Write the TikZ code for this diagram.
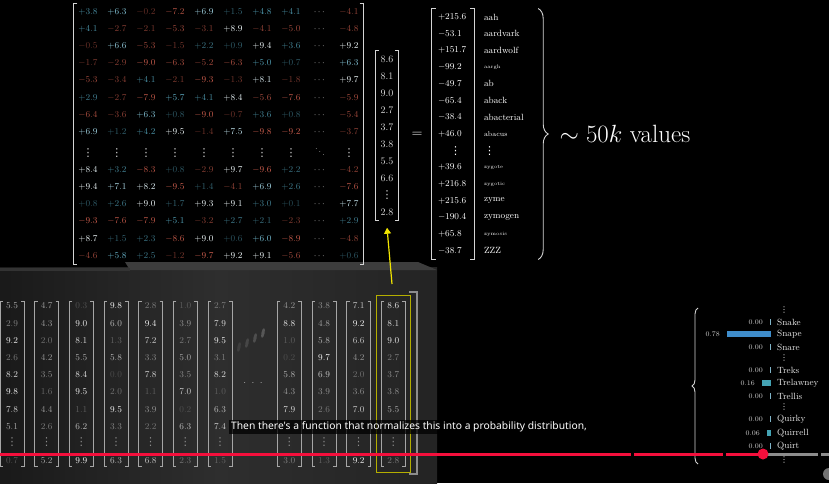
\documentclass[tikz,border=0pt]{standalone}
\usepackage{amsmath}
\usepackage{amssymb}
\usepackage{fontspec}
\newfontfamily\subfont{Noto Sans}
\newfontfamily\dotfont{DejaVu Sans}
\usetikzlibrary{matrix,decorations.pathreplacing,arrows.meta}

\definecolor{nblue}{HTML}{5AAFC8}
\definecolor{nred}{HTML}{D2604F}
\definecolor{dotgray}{HTML}{D8D8D8}
\definecolor{brkgray}{HTML}{D4D4D4}
\definecolor{vgray}{HTML}{DADADA}
\definecolor{ylw}{HTML}{F2E600}
\definecolor{ybox}{HTML}{B4AE00}
\definecolor{progred}{HTML}{F50F3C}
\definecolor{snapeb}{HTML}{3F8DCB}
\definecolor{tealb}{HTML}{44A3B4}
\definecolor{tickc}{HTML}{7FB4C8}

% one matrix entry, coloured by its value
\newcommand\mval[1]{%
  \pgfmathtruncatemacro\mvneg{(#1<0)}%
  \ifnum\mvneg=1
    \pgfmathtruncatemacro\mvl{50+5*abs(#1)}%
    \color{nred!\mvl!black}%
  \else
    \pgfmathtruncatemacro\mvl{min(100,45+9*(#1))}%
    \pgfmathtruncatemacro\mvw{max(0,min(90,((#1)-5.5)*30))}%
    \color{white!\mvw!nblue!\mvl!black}%
  \fi
  \pgfmathprintnumber[fixed,fixed zerofill,precision=1,showpos]{#1}}
% vertical dots as one glyph
\newcommand\vdt[1][11]{{\dotfont\fontsize{#1}{#1}\selectfont ⋮}}
\newcommand\mcd{{\color{dotgray}$\cdots$}}
\newcommand\mvd{{\color{dotgray}\vdt}}
\newcommand\mdd{{\color{dotgray}$\ddots$}}

\begin{document}
\begin{tikzpicture}[x=1pt,y=-1pt,
  brk/.style={draw=brkgray,line width=0.9pt},
  cbrk/.style={draw=black!35,line width=0.8pt},
  brc/.style={draw=brkgray,line width=0.9pt,decorate},
  yarrow/.style={draw=ylw,line width=1.2pt,-{Triangle[width=7pt,length=6pt]}},
  emb/.style={inner sep=0pt,font=\small},
  pnum/.style={inner sep=0pt,font=\scriptsize,text=black!20},
  pword/.style={inner sep=0pt,font=\small,text=black!8}]
\useasboundingbox (0,0) rectangle (829,483);
\fill[black] (0,0) rectangle (829,483);

% panel with the embedding columns
\shade[left color=black!90,right color=black!86,middle color=black!82] (0,267) rectangle (437,483);
\fill[black!76] (125,262) -- (418,262) -- (437,270) -- (130,270) -- cycle;
\fill[black!80] (0,268) -- (130,268) -- (130,271) -- (0,271) -- cycle;

% weight matrix
\matrix (W) [matrix of nodes,inner sep=0pt,
  nodes={minimum width=29pt,minimum height=16.7pt,inner sep=0pt,font=\small}]
  at (218.5,134) {
\mval{3.8} & \mval{6.3} & \mval{-0.2} & \mval{-7.2} & \mval{6.9} & \mval{1.5} & \mval{4.8} & \mval{4.1} & \mcd & \mval{-4.1} \\
\mval{4.1} & \mval{-2.7} & \mval{-2.1} & \mval{-5.3} & \mval{-3.1} & \mval{8.9} & \mval{-4.1} & \mval{-5.0} & \mcd & \mval{-4.8} \\
\mval{-0.5} & \mval{6.6} & \mval{-5.3} & \mval{-1.5} & \mval{2.2} & \mval{0.9} & \mval{9.4} & \mval{3.6} & \mcd & \mval{9.2} \\
\mval{-1.7} & \mval{-2.9} & \mval{-9.0} & \mval{-6.3} & \mval{-5.2} & \mval{-6.3} & \mval{5.0} & \mval{0.7} & \mcd & \mval{6.3} \\
\mval{-5.3} & \mval{-3.4} & \mval{4.1} & \mval{-2.1} & \mval{-9.3} & \mval{-1.3} & \mval{8.1} & \mval{-1.8} & \mcd & \mval{9.7} \\
\mval{2.9} & \mval{-2.7} & \mval{-7.9} & \mval{5.7} & \mval{4.1} & \mval{8.4} & \mval{-5.6} & \mval{-7.6} & \mcd & \mval{-5.9} \\
\mval{-6.4} & \mval{-3.6} & \mval{6.3} & \mval{0.8} & \mval{-9.0} & \mval{-0.7} & \mval{3.6} & \mval{0.8} & \mcd & \mval{-5.4} \\
\mval{6.9} & \mval{1.2} & \mval{4.2} & \mval{9.5} & \mval{-1.4} & \mval{7.5} & \mval{-9.8} & \mval{-9.2} & \mcd & \mval{-3.7} \\
\mvd & \mvd & \mvd & \mvd & \mvd & \mvd & \mvd & \mvd & \mdd & \mvd \\
\mval{8.4} & \mval{3.2} & \mval{-8.3} & \mval{0.8} & \mval{-2.9} & \mval{9.7} & \mval{-9.6} & \mval{2.2} & \mcd & \mval{-4.2} \\
\mval{9.4} & \mval{7.1} & \mval{8.2} & \mval{-9.5} & \mval{1.4} & \mval{-4.1} & \mval{6.9} & \mval{2.6} & \mcd & \mval{-7.6} \\
\mval{0.8} & \mval{2.6} & \mval{9.0} & \mval{1.7} & \mval{9.3} & \mval{9.1} & \mval{3.0} & \mval{0.1} & \mcd & \mval{7.7} \\
\mval{-9.3} & \mval{-7.6} & \mval{-7.9} & \mval{5.1} & \mval{-3.2} & \mval{2.7} & \mval{2.1} & \mval{-2.3} & \mcd & \mval{2.9} \\
\mval{8.7} & \mval{1.5} & \mval{2.3} & \mval{-8.6} & \mval{9.0} & \mval{0.6} & \mval{6.0} & \mval{-8.9} & \mcd & \mval{-4.8} \\
\mval{-4.6} & \mval{5.8} & \mval{2.5} & \mval{-1.2} & \mval{-9.7} & \mval{9.2} & \mval{9.1} & \mval{-5.6} & \mcd & \mval{0.6} \\
};
\draw[brk] ([xshift=4pt]W.north west) -- (W.north west) -- (W.south west) -- ([xshift=4pt]W.south west);
\draw[brk] ([xshift=-4pt]W.north east) -- (W.north east) -- (W.south east) -- ([xshift=-4pt]W.south east);

% the last embedding
\matrix (V) [matrix of nodes,inner sep=0pt,
  nodes={minimum width=22pt,minimum height=17pt,inner sep=0pt,text=vgray}]
  at (387,135.5) {
$8.6$ \\ $8.1$ \\ $9.0$ \\ $2.7$ \\ $3.7$ \\ $3.8$ \\ $5.5$ \\ $6.6$ \\ \vdt \\ $2.8$ \\
};
\draw[brk] ([xshift=3pt]V.north west) -- (V.north west) -- (V.south west) -- ([xshift=3pt]V.south west);
\draw[brk] ([xshift=-3pt]V.north east) -- (V.north east) -- (V.south east) -- ([xshift=-3pt]V.south east);

\node[font=\Large,text=white] (eq) at (417,135) {$=$};

% logits and words
\matrix (R) [matrix of nodes,inner sep=0pt,
  nodes={text width=30pt,inner xsep=6pt,inner ysep=0pt,minimum height=16.7pt,align=left,font=\small,text=white}]
  at (453,134) {
$+215.6$ \\ $-53.1$ \\ $+151.7$ \\ $-99.2$ \\ $-49.7$ \\ $-65.4$ \\ $-38.4$ \\ $+46.0$ \\
\hspace*{12pt}\vdt \\
$+39.6$ \\ $+216.8$ \\ $+215.6$ \\ $-190.4$ \\ $+65.8$ \\ $-38.7$ \\
};
\draw[brk] ([xshift=4pt]R.north west) -- (R.north west) -- (R.south west) -- ([xshift=4pt]R.south west);
\draw[brk] ([xshift=-4pt]R.north east) -- (R.north east) -- (R.south east) -- ([xshift=-4pt]R.south east);

\matrix (WD) [matrix of nodes,inner sep=0pt,
  nodes={text width=50pt,inner sep=0pt,minimum height=16.7pt,align=left,font=\small,text=white}]
  at (509,134) {
aah \\ aardvark \\ aardwolf \\ {\tiny aargh} \\ ab \\ aback \\ abacterial \\ {\scriptsize abacus} \\
\vdt \\
{\tiny zygote} \\ {\tiny zygotic} \\ zyme \\ zymogen \\ {\tiny zymosis} \\ ZZZ \\
};
\draw[brc,decoration={brace,amplitude=10pt}] ([xshift=4pt]WD.north east) -- ([xshift=4pt]WD.south east);
\node[anchor=west,font=\fontsize{25}{30}\selectfont,text=white] (lab) at ([xshift=22pt]WD.east) {$\sim 50k$ values};

% embedding columns (row 8 of the right ones lies under the subtitle)
\foreach \k/\vals/\last in {0/{5.5,2.9,9.2,2.6,8.2,9.8,7.8,5.1}/0.7,
  1/{4.7,4.3,2.0,4.2,3.5,1.6,4.4,2.6}/5.2, 2/{0.3,9.0,8.1,5.5,8.4,9.5,1.1,6.2}/9.9,
  3/{9.8,6.0,1.3,5.8,0.0,2.0,9.5,3.3}/6.3, 4/{2.8,9.4,7.2,3.3,7.8,1.1,3.9,2.2}/6.8,
  5/{1.0,3.9,2.7,5.0,3.5,7.0,0.2,6.3}/2.3, 6/{2.7,7.9,9.5,3.1,8.2,1.0,6.3,7.4}/1.5,
  8/{4.2,8.8,1.0,0.2,5.8,4.3,7.9}/3.0, 9/{3.8,4.8,5.8,9.7,6.9,3.9,2.6}/1.3,
  10/{7.1,9.2,6.6,4.2,2.0,3.6,7.0}/9.2, 11/{8.6,8.1,9.0,2.7,3.7,3.8,5.5}/2.8}
{
  \pgfmathsetmacro\cx{12+34.67*\k}
  \foreach \v [count=\r] in \vals {
    \pgfmathtruncatemacro\lv{30+7*\v}
    \pgfmathsetmacro\ry{306+17.2*(\r-1)}
    \node[emb,text=white!\lv!black] (e\k-\r) at (\cx,\ry) {$\v$};
  }
  \node[emb,text=black!45] (e\k-d) at (\cx,442) {\vdt};
  \pgfmathtruncatemacro\lv{30+7*\last}
  \node[emb,text=white!\lv!black] (e\k-l) at (\cx,460.7) {$\last$};
  \draw[cbrk] (\cx-9,301) -- (\cx-12,301) -- (\cx-12,466) -- (\cx-9,466);
  \draw[cbrk] (\cx+9,301) -- (\cx+12,301) -- (\cx+12,466) -- (\cx+9,466);
}
\node[text=black!30] (gap) at (253,383) {$\cdot\ \cdot\ \cdot$};
\fill[black!60,opacity=0.3,rotate around={-12:(239,347)}] (239,347) ellipse (1.6 and 5);
\fill[black!60,opacity=0.45,rotate around={-12:(247,343)}] (247,343) ellipse (1.6 and 5);
\fill[black!60,opacity=0.6,rotate around={-12:(255,338)}] (255,338) ellipse (1.6 and 5);
\fill[black!60,opacity=0.75,rotate around={-12:(263,333)}] (263,333) ellipse (1.6 and 5);

% highlighted column
\draw[draw=black!45,line width=2.2pt] (409,292) -- (417,292) -- (417,474) -- (409,474);
\draw[draw=ybox,line width=1pt] (376,295) rectangle (410,472);
\coordinate (yfoot) at (392,284);
\draw[yarrow] (yfoot) -- ([yshift=-7pt]V.south);

% probabilities
\draw[brc,decoration={brace,amplitude=6pt}] (698,464) -- (698,308);
\foreach \w/\p/\y/\len/\bc [count=\i] in {Snake/0.00/322/1/tickc, Snape/0.78/334/44/snapeb,
  Snare/0.00/347/1/tickc, Treks/0.00/370/1/tickc, Trelawney/0.16/383/9/tealb,
  Trellis/0.00/396/1/tickc, Quirky/0.00/419/1/tickc, Quirrell/0.06/433/4/tealb,
  Quirt/0.00/446/1/tickc}
{
  \fill[\bc] (771-\len,\y-3) rectangle (771,\y+3);
  \node[pnum,anchor=east] (pv\i) at (764-\len,\y) {\p};
  \node[pword,anchor=west] (pw\i) at (777,\y) {\w};
}
\foreach \y in {310,358,407,460}
  \node[pword] (pd\y) at (784,\y) {\vdt[8]};

% subtitle and progress bar
\node[fill=black,fill opacity=0.75,text opacity=1,text=white,font=\subfont\fontsize{10.3}{12}\selectfont,
  inner xsep=2pt,inner ysep=2pt] (sub) at (409,427) {Then there's a function that normalizes this into a probability distribution,};
\draw[progred,line width=3pt] (0,454) -- (631,454);
\draw[progred,line width=3pt] (634,454) -- (723,454);
\draw[progred,line width=3pt] (726,454) -- (763,454);
\draw[black!45,line width=3pt] (763,454) -- (818,454);
\draw[black!45,line width=3pt] (821,454) -- (829,454);
\fill[progred] (763,454) circle (5.5);
\fill[black!55] (829,474) circle (6);
\end{tikzpicture}
\end{document}
